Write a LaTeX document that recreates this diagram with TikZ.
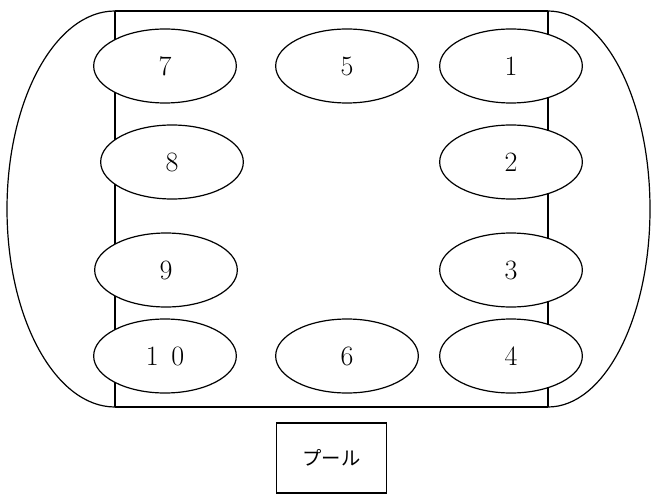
\documentclass[tikz,border=0pt]{standalone}
\usepackage{fontspec}
\newfontfamily\jpfont{Noto Sans CJK JP}
\usetikzlibrary{shapes.geometric}

\begin{document}
\begin{tikzpicture}[x=0.75pt,y=-0.75pt,line width=0.9pt]
    \tikzstyle{every node}=[font=\fontsize{21}{25}\selectfont]
    \tikzstyle{seat}=[
        draw,
        fill=white,
        shape=ellipse,
        inner sep=0pt,
        minimum width=107pt,
        minimum height=55.5pt]
    \tikzstyle{pool}=[
        draw,
        shape=rectangle,
        minimum width=82pt,
        minimum height=52.5pt,
        font=\jpfont\fontsize{14.5}{17}\selectfont]

    \useasboundingbox (0,0) rectangle (655,495);
    % outline of the hall
    \coordinate (tl) at (115,11);
    \coordinate (bl) at (115,407);
    \coordinate (tr) at (548,11);
    \coordinate (br) at (548,407);
    \draw (tl) -- (tr) (bl) -- (br) (tl) -- (bl) (tr) -- (br);
    \draw (tl) arc[start angle=90,end angle=270,x radius=108,y radius=-198];
    \draw (tr) arc[start angle=90,end angle=-90,x radius=102,y radius=-198];

    % seats
    \node[seat] (s7) at (165,66) {7};
    \node[seat] (s5) at (347,66) {5};
    \node[seat] (s1) at (511,66) {1};
    \node[seat] (s8) at (172,162) {8};
    \node[seat] (s2) at (511,162) {2};
    \node[seat] (s9) at (166,270) {9};
    \node[seat] (s3) at (511,270) {3};
    \node[seat] (s10) at (165,356) {1\hspace{0.45em}0};
    \node[seat] (s6) at (347,356) {6};
    \node[seat] (s4) at (511,356) {4};

    \node[pool] (pl) at (331.5,458) {プール};
\end{tikzpicture}
\end{document}
